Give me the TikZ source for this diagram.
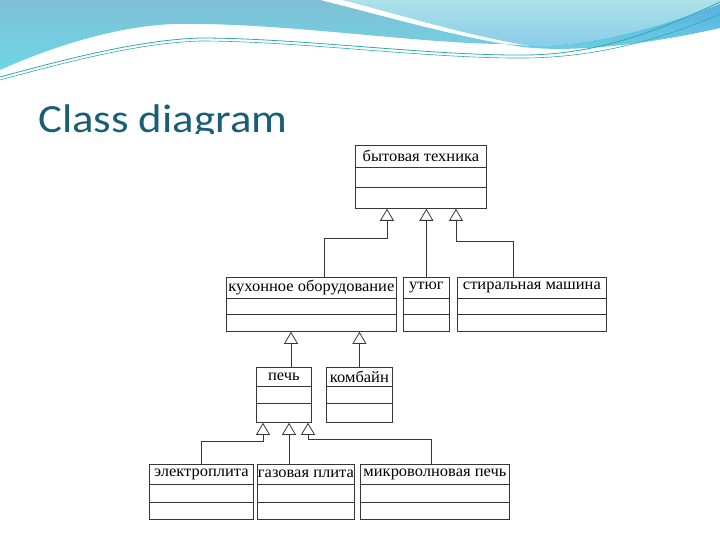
\documentclass[tikz,border=0pt]{standalone}
\usepackage{fontspec}
\setmainfont{Liberation Serif}
\newfontfamily\titlefont{Carlito}
\usetikzlibrary{arrows.meta}

\definecolor{titleblue}{RGB}{23,94,118}
\definecolor{linec}{RGB}{55,55,55}
\definecolor{waveteal}{RGB}{45,170,175}

\tikzset{
  classbox/.style={draw=linec, line width=0.8pt, inner sep=0pt, anchor=north west},
  classname/.style={font=\fontsize{16}{16}\selectfont, inner sep=0.5pt, xscale=1.03, text=black},
  divider/.style={draw=linec, line width=0.8pt},
  gen/.style={draw=linec, line width=0.8pt, -{Triangle[open, length=12pt, width=14pt]}}
}

% #1 name, #2 #3 top left, #4 #5 bottom right, #6 #7 dividers, #8 class name
\newcommand{\umlclass}[8]{%
  \node[classbox, minimum width={(#4-#2)*1pt}, minimum height={(#5-#3)*1pt}] (#1) at (#2,#3) {};
  \draw[divider] ([yshift=-#6pt]#1.north west) -- ([yshift=-#6pt]#1.north east);
  \draw[divider] ([yshift=-#7pt]#1.north west) -- ([yshift=-#7pt]#1.north east);
  \node[classname] (#1-name) at ([yshift={-#6/2*1pt}]#1.north) {#8};
}

\begin{document}
\begin{tikzpicture}[x=1pt,y=-1pt]
  \useasboundingbox (0,0) rectangle (720,540);

  %Shape: left wave
  \shade[top color={rgb,255:red,128;green,192;blue,214}, bottom color={rgb,255:red,108;green,214;blue,230}]
    (0,0) -- (320,0) .. controls (380,15) and (450,35) .. (505,44)
    .. controls (420,44) and (280,22) .. (175,24)
    .. controls (110,26) and (40,52) .. (0,70) -- cycle;
  %Shape: right wave
  \shade[top color={rgb,255:red,172;green,226;blue,232}, bottom color={rgb,255:red,138;green,204;blue,234}]
    (342,0) -- (720,0) -- (720,4) .. controls (660,28) and (590,46) .. (530,46)
    .. controls (460,34) and (398,14) .. (342,0) -- cycle;
  %Shape: blue band
  \shade[top color={rgb,255:red,88;green,176;blue,224}, bottom color={rgb,255:red,112;green,210;blue,226}]
    (720,4) .. controls (660,28) and (590,46) .. (530,46) -- (505,44)
    .. controls (560,56) and (650,44) .. (720,28) -- cycle;
  %Curve Lines
  \draw[waveteal, line width=0.8pt] (0,77) .. controls (70,58) and (140,40) .. (200,38)
    .. controls (300,38) and (430,56) .. (527,55) .. controls (600,54) and (660,30) .. (720,2);
  \draw[waveteal, line width=0.6pt] (0,80) .. controls (70,61) and (140,43) .. (200,41)
    .. controls (300,41) and (430,59) .. (527,58) .. controls (600,57) and (665,38) .. (720,14);

  % Text Node
  \begin{scope}
    \clip (0,0) rectangle (720,134);
    \node[anchor=base west, inner sep=0pt, xscale=1.12, text=titleblue, font=\titlefont\fontsize{40}{40}\selectfont] (title) at (38,133) {Class diagram};
  \end{scope}

  % classes
  \umlclass{appl}{355}{145}{486}{208}{22}{42}{бытовая техника}
  \umlclass{kitchen}{226}{277}{396}{331}{21}{37}{кухонное оборудование}
  \umlclass{iron}{403}{277}{449}{331}{21}{37}{утюг}
  \umlclass{washer}{457}{277}{606}{331}{21}{37}{стиральная машина}
  \umlclass{stove}{256}{367}{311}{422}{19}{36}{печь}
  \umlclass{mixer}{326}{367}{392}{422}{19}{36}{комбайн}
  \umlclass{electric}{149}{464}{253}{519}{20}{38}{электроплита}
  \umlclass{gas}{257}{464}{354}{519}{20}{38}{газовая плита}
  \umlclass{micro}{360}{464}{509}{519}{20}{38}{микроволновая печь}

  % generalization
  \draw[gen] ([xshift=98pt]kitchen.north west) -- ++(0,-39) -| ([xshift=32pt]appl.south west);
  \draw[gen] (iron.north) -- (iron.north |- appl.south);
  \draw[gen] ([xshift=56pt]washer.north west) -- ++(0,-36) -| ([xshift=101pt]appl.south west);
  \draw[gen] ([xshift=35pt]stove.north west) -- ([xshift=65pt]kitchen.south west);
  \draw[gen] (mixer.north) -- (mixer.north |- kitchen.south);
  \draw[gen] ([xshift=52pt]electric.north west) -- ++(0,-23) -| ([xshift=7pt]stove.south west);
  \draw[gen] ([xshift=32pt]gas.north west) -- ([xshift=33pt]stove.south west);
  \draw[gen] ([xshift=71pt]micro.north west) -- ++(0,-25) -| ([xshift=52pt]stove.south west);
\end{tikzpicture}
\end{document}
